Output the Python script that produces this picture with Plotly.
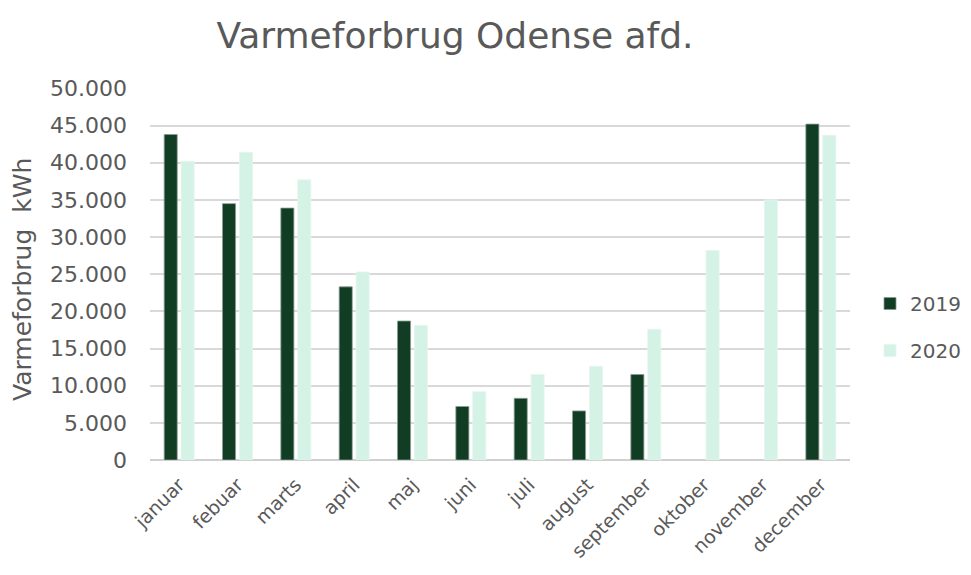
import plotly.graph_objects as go

months = ["januar", "febuar", "marts", "april", "maj", "juni", "juli",
          "august", "september", "oktober", "november", "december"]
v2019 = [43800, 34500, 33900, 23300, 18700, 7200, 8300, 6600, 11500, None, None, 45200]
v2020 = [40200, 41400, 37700, 25300, 18100, 9200, 11500, 12600, 17600, 28200, 35000, 43700]
y_ticks = list(range(0, 50001, 5000))

FONT = "DejaVu Sans"
GREY = "#595959"
W, H = 963, 559  # page body has an 8px margin

fig = go.Figure()
fig.add_trace(go.Bar(x=months, y=v2019, name="2019", legendgroup="a",
                     marker=dict(color="#113d24", line=dict(color="#8a9a90", width=0.8))))
fig.add_trace(go.Bar(x=months, y=v2020, name="2020", legendgroup="b",
                     marker=dict(color="#d4f2e6", line=dict(color="#e4f6ee", width=0.8))))

fig.update_layout(
    width=W, height=H,
    paper_bgcolor="white", plot_bgcolor="white",
    margin=dict(l=142, r=121, t=80, b=107),
    separators=",.",
    barmode="group", bargap=0.42, bargroupgap=0.23,
    font=dict(family=FONT, color=GREY, size=20),
    title=dict(text="Varmeforbrug Odense afd.", font=dict(family=FONT, size=36, color=GREY),
               x=447 / W, xref="container", xanchor="center",
               y=1 - 27 / H, yref="container", yanchor="middle"),
    legend=dict(x=862 / W, xref="container", xanchor="left",
                y=1 - 319 / H, yref="container", yanchor="middle",
                font=dict(size=20, color=GREY), traceorder="grouped", tracegroupgap=18),
    showlegend=True,
)
fig.update_yaxes(range=[0, 50060], tickvals=y_ticks, tickformat=",.0f", automargin=False,
                 showgrid=True, gridcolor="#d9d9d9", gridwidth=1.5,
                 zeroline=True, zerolinecolor="#d0d0d0", zerolinewidth=1.5,
                 showline=False, ticks="", ticklabelstandoff=22,
                 tickfont=dict(size=22, color=GREY))
fig.update_xaxes(tickangle=-45, showline=False, ticks="", ticklabelstandoff=9,
                 automargin=False, tickfont=dict(size=19, color=GREY))
fig.add_annotation(text="Varmeforbrug  kWh", textangle=-90, showarrow=False,
                   xref="paper", yref="paper", x=(14 - 142) / 700, y=(452 - 272) / 372,
                   xanchor="center", yanchor="middle",
                   font=dict(family=FONT, size=25, color=GREY))

fig.write_html("out.html")
